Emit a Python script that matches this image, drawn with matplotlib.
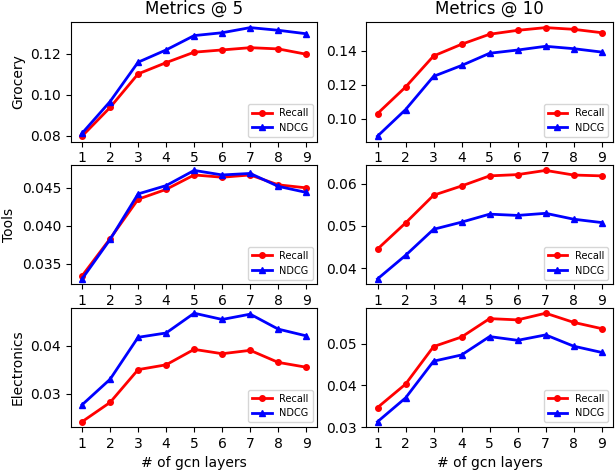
import matplotlib
matplotlib.use('Agg')
import matplotlib.pyplot as plt

layers = [1, 2, 3, 4, 5, 6, 7, 8, 9]
datasets = ['Grocery', 'Tools', 'Electronics']
ks = [5, 10]

# recall / ndcg, per dataset, @5 and @10
grocery_recall_5 = [0.0797, 0.0937, 0.1101, 0.1156, 0.1207, 0.1218, 0.1229, 0.1223, 0.1197]
grocery_ndcg_5 = [0.0811, 0.0966, 0.1158, 0.1218, 0.1288, 0.1302, 0.1327, 0.1314, 0.1297]
grocery_recall_10 = [0.1030, 0.1186, 0.1369, 0.1438, 0.1497, 0.1520, 0.1536, 0.1526, 0.1506]
grocery_ndcg_10 = [0.0897, 0.1053, 0.1249, 0.1313, 0.1385, 0.1404, 0.1426, 0.1412, 0.1392]

tools_recall_5 = [0.0334, 0.0383, 0.0435, 0.0448, 0.0467, 0.0464, 0.0467, 0.0454, 0.0450]
tools_ndcg_5 = [0.0330, 0.0382, 0.0442, 0.0453, 0.0473, 0.0467, 0.0469, 0.0452, 0.0444]
tools_recall_10 = [0.0445, 0.0507, 0.0573, 0.0595, 0.0619, 0.0622, 0.0632, 0.0621, 0.0619]
tools_ndcg_10 = [0.0374, 0.0430, 0.0492, 0.0509, 0.0528, 0.0525, 0.0530, 0.0516, 0.0508]

elec_recall_5 = [0.0242, 0.0282, 0.0350, 0.0360, 0.0392, 0.0383, 0.0390, 0.0365, 0.0355]
elec_ndcg_5 = [0.0277, 0.0330, 0.0417, 0.0426, 0.0467, 0.0454, 0.0465, 0.0434, 0.0420]
elec_recall_10 = [0.0347, 0.0403, 0.0493, 0.0516, 0.0560, 0.0557, 0.0573, 0.0551, 0.0536]
elec_ndcg_10 = [0.0313, 0.0370, 0.0458, 0.0473, 0.0517, 0.0508, 0.0521, 0.0494, 0.0479]

recall = [[grocery_recall_5, grocery_recall_10],
          [tools_recall_5, tools_recall_10],
          [elec_recall_5, elec_recall_10]]
ndcg = [[grocery_ndcg_5, grocery_ndcg_10],
        [tools_ndcg_5, tools_ndcg_10],
        [elec_ndcg_5, elec_ndcg_10]]

fig, axes = plt.subplots(3, 2, figsize=(6.16, 4.72), dpi=100)

for i in range(3):
    for j in range(2):
        ax = axes[i][j]
        ax.plot(layers, recall[i][j], color='red', marker='o', markersize=4, linewidth=2, label='Recall')
        ax.plot(layers, ndcg[i][j], color='blue', marker='^', markersize=5, linewidth=2, label='NDCG')
        ax.set_xticks(layers)
        ax.legend(loc='lower right', fontsize=7)
        if j == 0:
            ax.set_ylabel(datasets[i])
        if i == 0:
            ax.set_title('Metrics @ ' + str(ks[j]))
        if i == 2:
            ax.set_xlabel('# of gcn layers')

plt.subplots_adjust(left=0.115, right=0.995, top=0.953, bottom=0.095, wspace=0.198, hspace=0.196)
plt.savefig('out.png')
